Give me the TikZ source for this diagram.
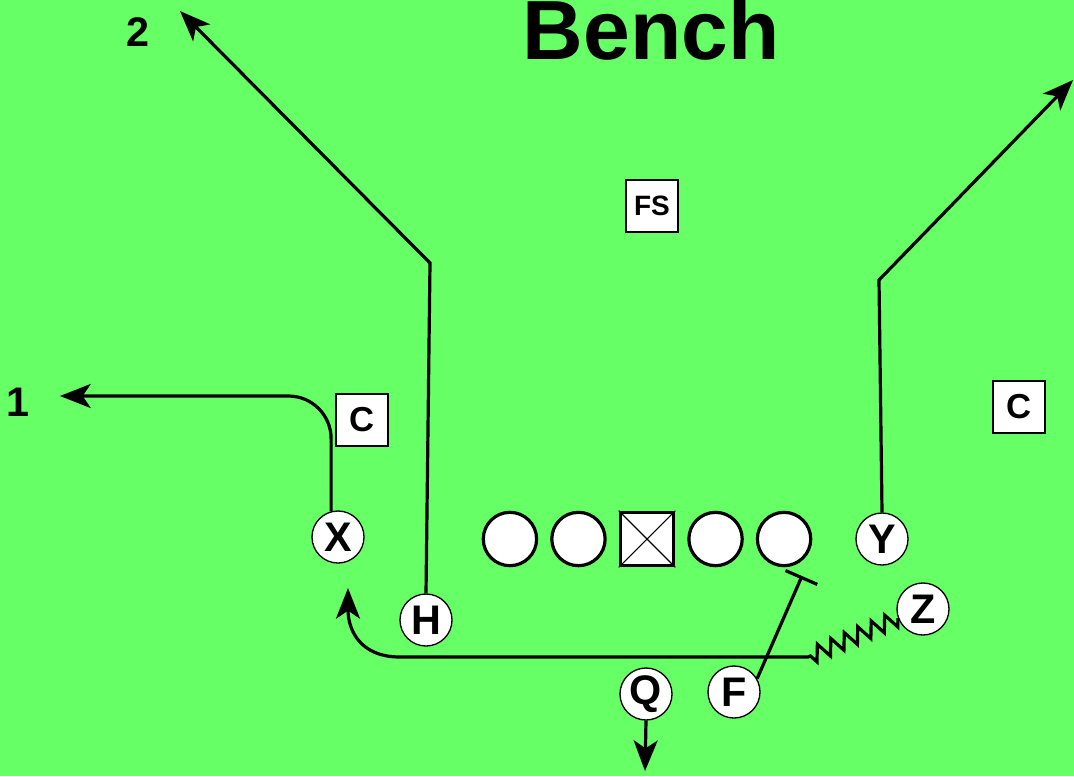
\documentclass[tikz,border=0pt]{standalone}
\usepackage{fontspec}
\setmainfont{Liberation Sans}
\usetikzlibrary{arrows.meta,positioning,decorations.pathmorphing}
\definecolor{field}{HTML}{66FF66}
\tikzset{
  player/.style={circle, draw, line width=1pt, fill=white, inner sep=0pt,
    minimum size=39pt, font=\fontsize{31}{31}\selectfont\bfseries},
  lineman/.style={circle, draw, line width=2.4pt, fill=white, inner sep=0pt,
    minimum size=40pt},
  centerbox/.style={rectangle, draw, line width=2.4pt, fill=white, inner sep=0pt,
    minimum size=40pt},
  defbox/.style={rectangle, draw, line width=0.8pt, fill=white, inner sep=0pt,
    minimum size=39pt, font=\fontsize{26}{26}\selectfont\bfseries},
  tag/.style={font=\fontsize{31}{31}\selectfont\bfseries},
  route/.style={line width=2.4pt, -{Stealth[length=23pt, width=18pt, inset=6pt]}},
  block/.style={line width=2.4pt, -{Bar[width=26pt]}},
  motion/.style={decoration={zigzag, segment length=11pt, amplitude=6pt}}
}
\begin{document}
\begin{tikzpicture}[x=0.75pt, y=-0.75pt, node distance=9pt]
    \fill[field] (0,0) rectangle (1074,776);
    \useasboundingbox (0,0) rectangle (1074,776);
    \node[anchor=base, font=\fontsize{63}{63}\selectfont\bfseries] (title) at (651,59) {Bench};
    % defense
    \node[defbox, font=\fontsize{21}{21}\selectfont\bfseries] (fs) at (652,206) {FS};
    \node[defbox] (lc) at (362,420) {C};
    \node[defbox] (rc) at (1019,407) {C};
    % line
    \node[centerbox] (ctr) at (647,539) {};
    \draw[line width=0.8pt] (ctr.north west) -- (ctr.south east) (ctr.north east) -- (ctr.south west);
    \node[lineman, right=of ctr] (rg) {};
    \node[lineman, right=of rg] (rt) {};
    \node[lineman, left=of ctr] (lg) {};
    \node[lineman, left=of lg] (lt) {};
    % backs and receivers
    \node[player] (X) at (338,537) {X};
    \node[player] (H) at (426,620) {H};
    \node[player] (Y) at (882,539) {Y};
    \node[player] (Z) at (923,609) {Z};
    \node[player] (Q) at (646,694) {Q};
    \node[player] (F) at (734,692) {F};
    \node[tag] (one) at (18,402) {1};
    \node[tag] (two) at (138,32) {2};
    \coordinate (xend) at (60,396);
    \coordinate (htip) at (180,11);
    \coordinate (ytip) at (1073,80);
    \coordinate (zturn) at (808,657);
    \coordinate (xtip) at (348,588);
    \coordinate (fblk) at (802,576);
    \coordinate (qtip) at (645,771);
    % routes
    \draw[route, rounded corners=32pt] (X.105) |- (xend);
    \draw[route] (H.north) -- (430,263) -- (htip);
    \draw[route] (Y.north) -- (879,280) -- (ytip);
    \draw[route] (Z.200) decorate[motion] {-- (zturn)} -- (400,657)
      .. controls (360,657) and (348,630) .. (xtip);
    \draw[block] (F.30) -- (fblk);
    \draw[route] (Q.south) -- (qtip);
  \end{tikzpicture}
\end{document}
